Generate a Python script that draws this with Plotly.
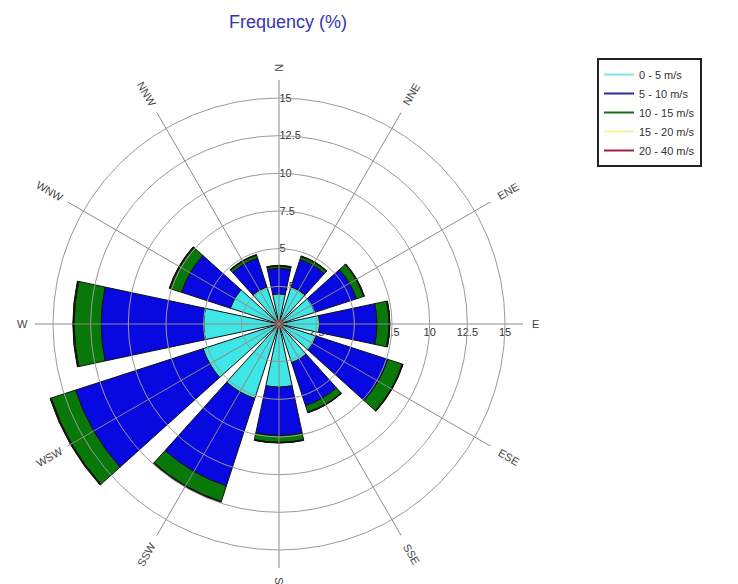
import math

import plotly.graph_objects as go

# 12 direction sectors (30 deg apart), labels as printed on the rose
directions = ["N", "NNE", "ENE", "E", "ESE", "SSE", "S", "SSW", "WSW", "W", "WNW", "NNW"]
angles = [0, 30, 60, 90, 120, 150, 180, 210, 240, 270, 300, 330]

speed_bins = ["0 - 5 m/s", "5 - 10 m/s", "10 - 15 m/s", "15 - 20 m/s", "20 - 40 m/s"]

# frequency (%) per speed bin, stacked outward
freq_0_5 = [2.0, 2.6, 2.5, 2.7, 2.6, 2.7, 4.2, 5.2, 5.3, 5.0, 3.4, 2.6]
freq_5_10 = [1.7, 1.9, 2.9, 3.8, 5.0, 3.0, 3.2, 6.1, 8.9, 6.8, 3.4, 2.0]
freq_10_15 = [0.15, 0.2, 0.5, 0.8, 1.0, 0.45, 0.45, 1.1, 1.7, 1.8, 0.8, 0.2]
freq_15_20 = [0.03, 0.03, 0.04, 0.04, 0.04, 0.03, 0.03, 0.04, 0.05, 0.05, 0.04, 0.03]
freq_20_40 = [0.02, 0.02, 0.02, 0.02, 0.02, 0.02, 0.02, 0.02, 0.03, 0.03, 0.02, 0.02]

ring_vals = [2.5, 5, 7.5, 10, 12.5, 15]
ring_text = ["2.5", "5", "7.5", "10", "12.5", "15"]

series = [freq_0_5, freq_5_10, freq_10_15, freq_15_20, freq_20_40]
bar_colors = ["#3ee6e6", "#0808e0", "#087808", "#f2f21a", "#d01010"]
legend_colors = ["#7fe6e6", "#2a2a9a", "#1a6a1a", "#f4f49a", "#a02040"]

W, H = 738, 584
OFF = 8  # page body margin in the browser shifts the figure by 8px
R_MAX = 16.2
PX_PER_UNIT = 226 / 15
cx, cy = 279 - OFF, H - (324 - OFF)  # rose centre, pixels from left / bottom
rpx = R_MAX * PX_PER_UNIT
dom_x = [(cx - rpx) / W, (cx + rpx) / W]
dom_y = [(cy - rpx) / H, (cy + rpx) / H]

fig = go.Figure()

# keeps the bottom polar (E tick labels) alive
fig.add_trace(go.Scatterpolar(r=[None], theta=[None], showlegend=False, subplot="polar"))

for name, vals, col in zip(speed_bins, series, bar_colors):
    fig.add_trace(
        go.Barpolar(
            r=vals,
            theta=angles,
            width=24,
            name=name,
            marker=dict(color=col, line=dict(color="#111111", width=1)),
            showlegend=False,
            subplot="polar2",
        )
    )

# legend entries drawn as line samples
for name, col in zip(speed_bins, legend_colors):
    fig.add_trace(
        go.Scatterpolar(
            r=[None],
            theta=[None],
            mode="lines",
            name=name,
            line=dict(color=col, width=2),
            subplot="polar2",
        )
    )

fig.add_trace(
    go.Scatterpolar(
        r=[0],
        theta=[0],
        mode="markers",
        marker=dict(symbol="circle-open", size=8, color="#b04848", line=dict(width=1.5)),
        showlegend=False,
        subplot="polar3",
    )
)

tickfont = dict(family="Liberation Sans, Arial", size=11, color="#333333")
hidden_ang = dict(
    direction="clockwise", rotation=90, showgrid=False, showline=False,
    showticklabels=False, ticks="",
)

fig.update_layout(
    width=W,
    height=H,
    margin=dict(l=0, r=0, t=0, b=0),
    paper_bgcolor="white",
    font=dict(family="Liberation Sans, Arial", color="#333333"),
    title=dict(
        text="Frequency (%)",
        x=(288 - OFF) / W,
        xanchor="center",
        y=1 - (22 - OFF) / H,
        yanchor="middle",
        font=dict(size=18, color="#3434b0"),
    ),
    # bottom: radial labels along E
    polar=dict(
        domain=dict(x=dom_x, y=dom_y),
        bgcolor="white",
        radialaxis=dict(
            range=[0, R_MAX], angle=0, tickvals=ring_vals, ticktext=ring_text,
            showgrid=False, showline=False, ticks="", tickfont=tickfont, tickangle=0,
        ),
        angularaxis=hidden_ang,
    ),
    # middle: bars, radial labels along N under the bars
    polar2=dict(
        domain=dict(x=dom_x, y=dom_y),
        bgcolor="rgba(0,0,0,0)",
        barmode="stack",
        radialaxis=dict(
            range=[0, R_MAX], angle=90, tickvals=ring_vals, ticktext=ring_text,
            showgrid=False, showline=False, ticks="", tickfont=tickfont,
            tickangle=90, layer="below traces",
        ),
        angularaxis=hidden_ang,
    ),
    # top: grid drawn over the bars
    polar3=dict(
        domain=dict(x=dom_x, y=dom_y),
        bgcolor="rgba(0,0,0,0)",
        radialaxis=dict(
            range=[0, R_MAX], tickvals=ring_vals, showticklabels=False,
            showgrid=True, gridcolor="#9a9a9a", gridwidth=1, showline=False, ticks="",
        ),
        angularaxis=dict(
            direction="clockwise", rotation=90, tickvals=angles,
            showgrid=True, gridcolor="#8a8a8a", gridwidth=1,
            showline=False, showticklabels=False, ticks="",
        ),
    ),
    legend=dict(
        x=(597 - OFF) / W,
        y=1 - (58 - OFF) / H,
        xanchor="left",
        yanchor="top",
        bgcolor="white",
        bordercolor="#222222",
        borderwidth=2,
        font=dict(size=11, color="#333333"),
        itemwidth=30,
        tracegroupgap=0,
    ),
)

# direction labels, rotated along their spokes
for lab, a in zip(directions, angles):
    rl = (16.7 + 0.3 * len(lab)) * PX_PER_UNIT
    x = (cx + rl * math.sin(math.radians(a))) / W
    y = (cy + rl * math.cos(math.radians(a))) / H
    tangle = a - 90 if 0 <= a <= 180 else a - 270
    if a == 0:
        tangle = -90
    fig.add_annotation(
        x=x, y=y, xref="paper", yref="paper", text=lab, showarrow=False,
        textangle=tangle, font=dict(size=11, color="#444444"),
        xanchor="center", yanchor="middle",
    )

fig.write_html("out.html")
